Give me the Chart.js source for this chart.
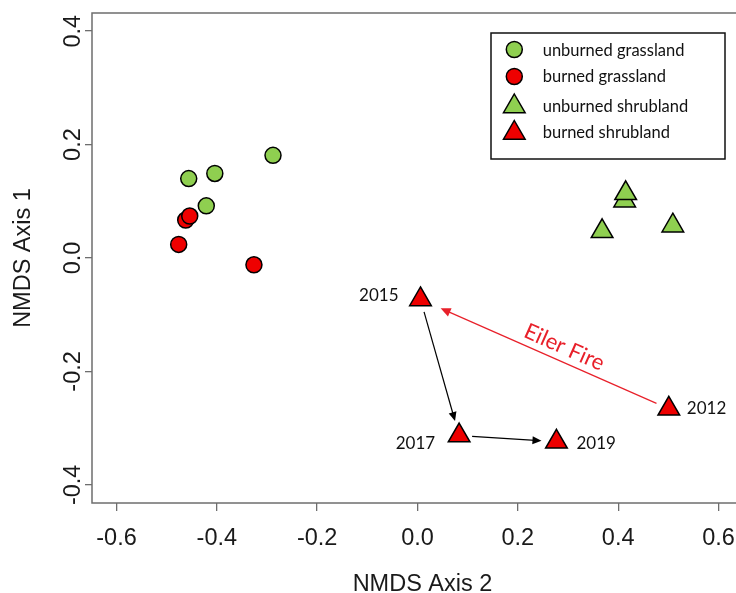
<!DOCTYPE html>
<html><head><meta charset="utf-8">
<script src="https://cdn.jsdelivr.net/npm/chart.js@4/dist/chart.umd.min.js"></script>
<style>
html,body{margin:0;padding:0;background:#fff;overflow:hidden;}
canvas{display:block;}
</style></head><body>
<canvas id="c" width="736" height="593" style="width:736px;height:593px"></canvas>
<script>
// ---- data ----
const seriesNames = ['unburned grassland', 'burned grassland', 'unburned shrubland', 'burned shrubland'];
const unburnedGrassX = [-0.288, -0.404, -0.456, -0.421];
const unburnedGrassY = [0.181, 0.149, 0.140, 0.092];
const burnedGrassX = [-0.462, -0.454, -0.476, -0.326];
const burnedGrassY = [0.067, 0.074, 0.024, -0.012];
const unburnedShrubX = [0.368, 0.509, 0.413, 0.415];
const unburnedShrubY = [0.047, 0.057, 0.101, 0.114];
const burnedShrubX = [0.501, 0.006, 0.083, 0.277];
const burnedShrubY = [-0.266, -0.073, -0.313, -0.324];
const yearLabels = ['2012', '2015', '2017', '2019'];
const fireLabel = 'Eiler Fire';
const fireArrow = [0, 1];                 // 2012 -> 2015 (indices into burned shrubland)
const recoveryArrows = [[1, 2], [2, 3]];  // 2015 -> 2017 -> 2019
const xTicks = [-0.6, -0.4, -0.2, 0.0, 0.2, 0.4, 0.6];
const xTickLabels = ['-0.6', '-0.4', '-0.2', '0.0', '0.2', '0.4', '0.6'];
const yTicks = [-0.4, -0.2, 0.0, 0.2, 0.4];
const yTickLabels = ['-0.4', '-0.2', '0.0', '0.2', '0.4'];
const xTitle = 'NMDS Axis 2';
const yTitle = 'NMDS Axis 1';
const xLim = [-0.6, 0.62];
const yLim = [-0.4, 0.4];

// ---- styles / layout ----
const GREEN = '#8fcf50', RED = '#ee0000', AXIS = '#6e6e6e', TXT = '#1a1a1a';
const AX_FONT = '23.5px "Liberation Sans", Arial, sans-serif';
const ANN_FONT = 'Lato, "Open Sans", sans-serif';
const labelSide = ['right', 'left', 'left', 'right'];
const labelGap = [18, 22, 24, 20];
const labelDy = [-1, -5, 7, 1];
const W = 736, LEFT = 92, OVERFLOW = 17;   // the plot region runs 17px past the right edge of the picture

function ext(l) { const r = l[1] - l[0]; return [l[0] - 0.04 * r, l[1] + 0.04 * r]; }
const xe = ext(xLim), ye = ext(yLim);
const xVisibleMax = xe[0] + (xe[1] - xe[0]) * (W - LEFT) / (W + OVERFLOW - LEFT);
const pts = (xs, ys) => xs.map((x, i) => ({x: x, y: ys[i]}));

function drawArrow(ctx, x1, y1, x2, y2, color, lw, hl, hw) {
  const a = Math.atan2(y2 - y1, x2 - x1), c = Math.cos(a), s = Math.sin(a);
  ctx.save();
  ctx.strokeStyle = color; ctx.fillStyle = color; ctx.lineWidth = lw;
  ctx.beginPath(); ctx.moveTo(x1, y1); ctx.lineTo(x2 - c * hl * 0.7, y2 - s * hl * 0.7); ctx.stroke();
  ctx.beginPath(); ctx.moveTo(x2, y2);
  ctx.lineTo(x2 - hl * c + hw * s, y2 - hl * s - hw * c);
  ctx.lineTo(x2 - hl * c - hw * s, y2 - hl * s + hw * c);
  ctx.closePath(); ctx.fill();
  ctx.restore();
}
function segment(chart, xs, ys, i, j, s1, s2) {
  const X = chart.scales.x, Y = chart.scales.y;
  const ax = X.getPixelForValue(xs[i]), ay = Y.getPixelForValue(ys[i]);
  const bx = X.getPixelForValue(xs[j]), by = Y.getPixelForValue(ys[j]);
  const d = Math.hypot(bx - ax, by - ay), ux = (bx - ax) / d, uy = (by - ay) / d;
  return [ax + ux * s1, ay + uy * s1, bx - ux * s2, by - uy * s2];
}

const decor = {
  id: 'decor',
  beforeDatasetsDraw(chart) {
    const ctx = chart.ctx, ca = chart.chartArea, X = chart.scales.x;
    const right = X.getPixelForValue(xe[1]);
    ctx.save();
    ctx.strokeStyle = AXIS; ctx.lineWidth = 1.5;
    ctx.strokeRect(ca.left, ca.top, right - ca.left, ca.bottom - ca.top);
    ctx.restore();
    recoveryArrows.forEach(p => {
      const s = segment(chart, burnedShrubX, burnedShrubY, p[0], p[1], 13, 15);
      drawArrow(ctx, s[0], s[1], s[2], s[3], '#000', 1.2, 9, 4);
    });
    const f = segment(chart, burnedShrubX, burnedShrubY, fireArrow[0], fireArrow[1], 13.5, 22);
    drawArrow(ctx, f[0], f[1], f[2], f[3], '#e8202a', 1.2, 10, 4.5);
    const ang = Math.atan2(f[1] - f[3], f[0] - f[2]);
    const ux = Math.cos(ang), uy = Math.sin(ang);
    const mx = (f[0] + f[2]) / 2 + ux * 11 + uy * 15, my = (f[1] + f[3]) / 2 + uy * 11 - ux * 15;
    ctx.save();
    ctx.translate(mx, my); ctx.rotate(ang);
    ctx.fillStyle = '#e8202a'; ctx.font = '22px ' + ANN_FONT;
    ctx.textAlign = 'center'; ctx.textBaseline = 'alphabetic';
    ctx.fillText(fireLabel, 0, 22 * 0.36);
    ctx.restore();
  },
  afterDraw(chart) {
    const ctx = chart.ctx, ca = chart.chartArea, X = chart.scales.x, Y = chart.scales.y;
    ctx.save();
    ctx.fillStyle = TXT; ctx.font = AX_FONT; ctx.textAlign = 'center'; ctx.textBaseline = 'alphabetic';
    X.ticks.forEach((t, i) => {
      ctx.fillText(xTickLabels[i], X.getPixelForValue(t.value), 537 + 23.5 * 0.358);
    });
    Y.ticks.forEach((t, i) => {
      ctx.save(); ctx.translate(72, Y.getPixelForValue(t.value)); ctx.rotate(-Math.PI / 2);
      ctx.fillText(yTickLabels[i], 0, 23.5 * 0.358); ctx.restore();
    });
    ctx.fillText(xTitle, X.getPixelForValue((xe[0] + xe[1]) / 2), 583 + 23.5 * 0.358);
    ctx.save(); ctx.translate(21.5, (ca.top + ca.bottom) / 2); ctx.rotate(-Math.PI / 2);
    ctx.fillText(yTitle, 0, 23.5 * 0.358); ctx.restore();
    ctx.font = '17px ' + ANN_FONT; ctx.fillStyle = '#111';
    yearLabels.forEach((lab, i) => {
      const px = X.getPixelForValue(burnedShrubX[i]), py = Y.getPixelForValue(burnedShrubY[i]);
      ctx.textAlign = labelSide[i] === 'left' ? 'right' : 'left';
      const tx = labelSide[i] === 'left' ? px - labelGap[i] : px + labelGap[i];
      ctx.fillText(lab, tx, py + labelDy[i] + 17 * 0.36);
    });
    const bx = 491, by = 33, bw = 234, bh = 126;
    ctx.fillStyle = '#fff'; ctx.fillRect(bx, by, bw, bh);
    ctx.strokeStyle = '#111'; ctx.lineWidth = 1.5; ctx.strokeRect(bx, by, bw, bh);
    const rowY = [49.5, 76.5, 106.5, 133];
    const txtY = [55.7, 82.3, 112, 137.5];
    chart.data.datasets.forEach((ds, i) => {
      ctx.fillStyle = ds.backgroundColor; ctx.strokeStyle = '#000'; ctx.lineWidth = 1.5;
      ctx.beginPath();
      if (ds.pointStyle === 'circle') { ctx.arc(514.3, rowY[i], ds.pointRadius, 0, Math.PI * 2); }
      else { const r = ds.pointRadius; ctx.moveTo(514.3, rowY[i] - r);
        ctx.lineTo(514.3 + r * 0.866, rowY[i] + r / 2); ctx.lineTo(514.3 - r * 0.866, rowY[i] + r / 2); ctx.closePath(); }
      ctx.fill(); ctx.stroke();
      ctx.fillStyle = '#111'; ctx.font = '16.5px ' + ANN_FONT; ctx.textAlign = 'left';
      ctx.fillText(seriesNames[i], 542.7, txtY[i]);
    });
    ctx.restore();
  }
};

const mk = (label, data, color, style, r) => ({
  label: label, data: data, backgroundColor: color, borderColor: '#000', borderWidth: 1.5,
  pointStyle: style, pointRadius: r, pointHoverRadius: r, pointBorderWidth: 1.5
});

new Chart(document.getElementById('c'), {
  type: 'scatter',
  data: {
    datasets: [
      mk(seriesNames[0], pts(unburnedGrassX, unburnedGrassY), GREEN, 'circle', 8),
      mk(seriesNames[1], pts(burnedGrassX, burnedGrassY), RED, 'circle', 8),
      mk(seriesNames[2], pts(unburnedShrubX, unburnedShrubY), GREEN, 'triangle', 12.5),
      mk(seriesNames[3], pts(burnedShrubX, burnedShrubY), RED, 'triangle', 12.5)
    ]
  },
  options: {
    responsive: false, animation: false, devicePixelRatio: 1,
    layout: {autoPadding: false, padding: {top: 13, left: 0, right: 0, bottom: 0}},
    plugins: {legend: {display: false}, tooltip: {enabled: false}},
    events: [],
    scales: {
      x: {
        type: 'linear', min: xe[0], max: xVisibleMax,
        afterBuildTicks: s => { s.ticks = xTicks.map(v => ({value: v})); },
        afterFit: s => { s.height = 90; },
        ticks: {display: false},
        border: {display: false},
        grid: {display: true, drawOnChartArea: false, drawTicks: true, tickLength: 8, color: AXIS, lineWidth: 1.3}
      },
      y: {
        type: 'linear', min: ye[0], max: ye[1],
        afterBuildTicks: s => { s.ticks = yTicks.map(v => ({value: v})); },
        afterFit: s => { s.width = LEFT; },
        ticks: {display: false},
        border: {display: false},
        grid: {display: true, drawOnChartArea: false, drawTicks: true, tickLength: 7, color: AXIS, lineWidth: 1.3}
      }
    }
  },
  plugins: [decor]
});
</script>
</body></html>
